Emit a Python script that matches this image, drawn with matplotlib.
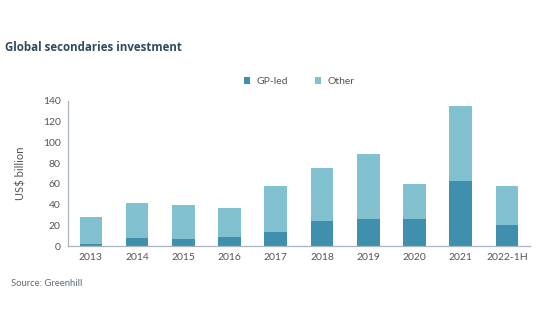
import matplotlib.pyplot as plt
import numpy as np

years = ["2013", "2014", "2015", "2016", "2017", "2018", "2019", "2020", "2021", "2022-1H"]
gp_led = [2, 8, 7, 9, 14, 24, 26, 26, 63, 20]
total = [28, 42, 40, 37, 58, 75, 89, 60, 135, 58]
other = [t - g for t, g in zip(total, gp_led)]

GP_COLOR = "#3f8fae"
OTHER_COLOR = "#80c0cf"
TEXT_GRAY = "#555555"

plt.rcParams["font.family"] = ["Lato", "DejaVu Sans"]

fig = plt.figure(figsize=(5.4, 3.34), dpi=100)
ax = fig.add_axes([0.1254, 0.2626, 0.8561, 0.436])

x = np.arange(len(years))
ax.bar(x, gp_led, width=0.49, color=GP_COLOR, label="GP-led")
ax.bar(x, other, width=0.49, bottom=gp_led, color=OTHER_COLOR, label="Other")

ax.set_xlim(-0.5, len(years) - 0.5)
ax.set_ylim(0, 140)
ax.set_yticks(range(0, 141, 20))
ax.set_xticks(x)
ax.set_xticklabels(years)
ax.tick_params(length=0, labelsize=7.5, labelcolor=TEXT_GRAY, pad=5)
ax.set_ylabel("US$ billion", fontsize=8, color=TEXT_GRAY, labelpad=12)

for side in ("top", "right"):
    ax.spines[side].set_visible(False)
for side in ("left", "bottom"):
    ax.spines[side].set_color("#a9b4bd")
    ax.spines[side].set_linewidth(0.9)

ax.legend(loc="center", bbox_to_anchor=(0.5, 1.134), ncol=2, frameon=False,
          fontsize=7.5, handlelength=0.65, handleheight=0.65, columnspacing=2.6,
          handletextpad=0.55, labelcolor=TEXT_GRAY)

fig.text(0.009, 0.858, "Global secondaries investment", fontsize=8.3,
         fontweight="bold", color="#2f4b5f", va="center", family="Open Sans")
fig.text(0.021, 0.152, "Source: Greenhill", fontsize=6.8, color="#5f6b76", va="center")

fig.savefig("out.png", dpi=100)
